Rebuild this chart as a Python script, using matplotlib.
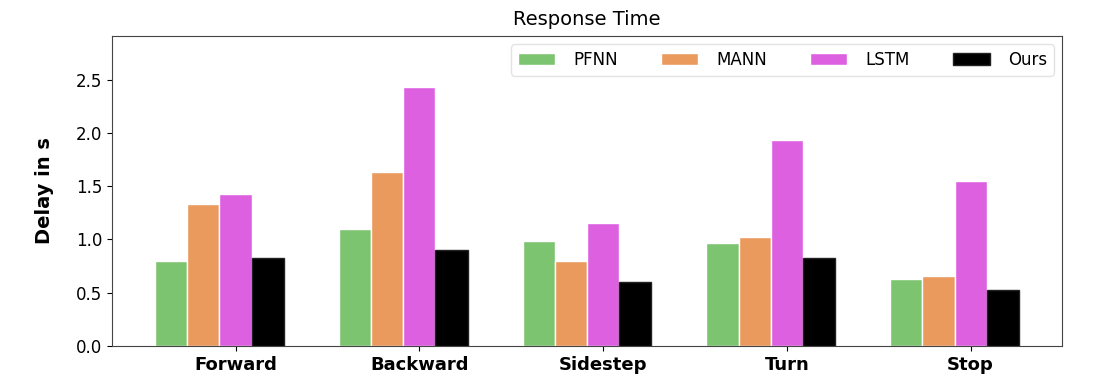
import numpy as np
import matplotlib
matplotlib.use("Agg")
import matplotlib.pyplot as plt

categories = ["Forward", "Backward", "Sidestep", "Turn", "Stop"]
methods = ["PFNN", "MANN", "LSTM", "Ours"]
pfnn = [0.80, 1.10, 0.99, 0.965, 0.63]
mann = [1.33, 1.63, 0.80, 1.02, 0.66]
lstm = [1.43, 2.43, 1.15, 1.93, 1.55]
ours = [0.83, 0.90, 0.60, 0.83, 0.53]
colors = ["#7dc470", "#eb9a5e", "#dd60e0", "#000000"]
yticks = [0.0, 0.5, 1.0, 1.5, 2.0, 2.5]

fig = plt.figure(figsize=(11.16, 3.88), dpi=100)
ax = fig.add_axes([112/1116, 1-346/388, (1062-112)/1116, (346-36)/388])

x = np.arange(len(categories))
w = 0.175
series = [pfnn, mann, lstm, ours]
for i, (name, vals, c) in enumerate(zip(methods, series, colors)):
    ax.bar(x + (i - 2) * w, vals, width=w, color=c,
           edgecolor="white" if i < 3 else "#222222", linewidth=1.0, label=name)

ax.set_xticks(x)
ax.set_xticklabels(categories, fontsize=13, fontweight="bold")
ax.set_yticks(yticks)
ax.set_yticklabels([f"{v:.1f}" for v in yticks], fontsize=12)
ax.set_ylim(0, 2.91)
ax.set_ylabel("Delay in s", fontsize=14, fontweight="bold", labelpad=16)
ax.set_title("Response Time", fontsize=14, pad=8)
ax.legend(loc="upper right", ncol=4, fontsize=12, handlelength=2.2,
          columnspacing=2.6, handletextpad=1.1, borderaxespad=0.5,
          frameon=True, edgecolor="#dddddd")
for s in ax.spines.values():
    s.set_color("#444444")

fig.savefig("out.png", dpi=100)
